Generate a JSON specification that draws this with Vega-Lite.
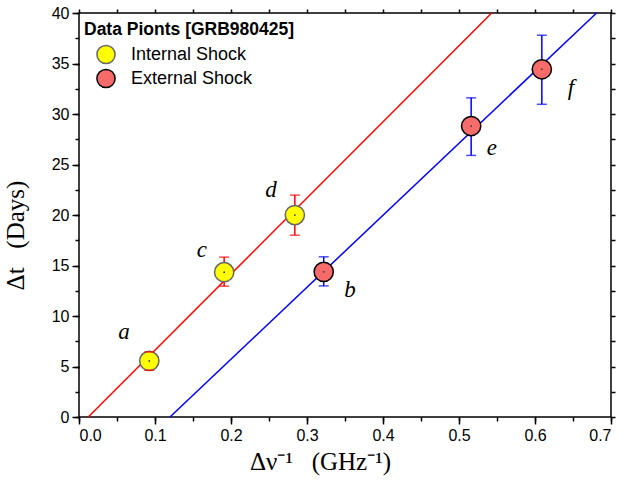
{
  "$schema": "https://vega.github.io/schema/vega-lite/v6.json",
  "autosize": "none",
  "width": 532,
  "height": 404,
  "padding": {"left": 79, "top": 13, "right": 23, "bottom": 67},
  "background": "white",
  "config": {
    "view": {"stroke": "black", "strokeWidth": 1.5},
    "axis": {
      "domain": false,
      "grid": false,
      "labelFont": "Liberation Sans",
      "labelFontSize": 16,
      "labelColor": "black",
      "tickColor": "black",
      "tickWidth": 1.5,
      "titleColor": "black",
      "titleFont": "Liberation Serif",
      "titleFontWeight": "normal",
      "titleFontSize": 25
    },
    "legend": {
      "titleFont": "Liberation Sans", "titleFontSize": 17.5, "titleFontWeight": "bold", "titleColor": "black", "titlePadding": 6, "titleLimit": 400,
      "labelFont": "Liberation Sans", "labelFontSize": 18, "labelColor": "black", "labelOffset": 15, "labelLimit": 400,
      "symbolSize": 330, "symbolStrokeWidth": 1.5, "symbolOffset": 12, "rowPadding": -2, "symbolType": "circle"
    }
  },
  "datasets": {
    "pts": [
      {"label": "a", "group": "Internal Shock", "x": 0.0925, "y": 5.55, "lo": 4.63, "hi": 6.44, "lx": 0.0592, "ly": 8.39},
      {"label": "c", "group": "Internal Shock", "x": 0.191, "y": 14.34, "lo": 12.95, "hi": 15.83, "lx": 0.1618, "ly": 16.52},
      {"label": "d", "group": "Internal Shock", "x": 0.284, "y": 19.99, "lo": 18.0, "hi": 21.97, "lx": 0.2526, "ly": 22.46},
      {"label": "b", "group": "External Shock", "x": 0.322, "y": 14.37, "lo": 12.98, "hi": 15.86, "lx": 0.3566, "ly": 12.55},
      {"label": "e", "group": "External Shock", "x": 0.516, "y": 28.81, "lo": 25.9, "hi": 31.6, "lx": 0.5434, "ly": 26.63},
      {"label": "f", "group": "External Shock", "x": 0.609, "y": 34.43, "lo": 30.96, "hi": 37.8, "lx": 0.6474, "ly": 32.58}
    ],
    "fits": [
      {"group": "Internal Shock", "x": 0.0122, "y": 0},
      {"group": "Internal Shock", "x": 0.543, "y": 40},
      {"group": "External Shock", "x": 0.1197, "y": 0},
      {"group": "External Shock", "x": 0.681, "y": 40}
    ]
  },
  "resolve": {"axis": {"x": "independent", "y": "independent"}},
  "layer": [
    {
      "data": {"name": "fits"},
      "mark": {"type": "line", "strokeWidth": 1.5},
      "encoding": {
        "x": {"field": "x", "type": "quantitative", "scale": {"domain": [0, 0.7], "nice": false, "zero": false},
              "axis": {"orient": "bottom", "values": [0, 0.1, 0.2, 0.3, 0.4, 0.5, 0.6, 0.7], "format": ".1f", "tickSize": 7, "labelPadding": 3,
                       "title": "Δν⁻¹\u2002 (GHz⁻¹)", "titleX": 241, "titlePadding": 6}},
        "y": {"field": "y", "type": "quantitative", "scale": {"domain": [0, 40], "nice": false},
              "axis": {"orient": "left", "values": [0, 5, 10, 15, 20, 25, 30, 35, 40], "tickSize": 7, "labelPadding": 3,
                       "title": "Δt\u2002 (Days)", "titleY": 222, "titleX": -51}},
        "color": {"field": "group", "type": "nominal", "scale": {"domain": ["External Shock", "Internal Shock"], "range": ["#0000ff", "#ff0000"]}, "legend": null},
        "detail": {"field": "group"}
      }
    },
    {
      "data": {"name": "pts"},
      "mark": {"type": "rule", "strokeWidth": 1.5},
      "encoding": {
        "x": {"field": "x", "type": "quantitative",
              "axis": {"orient": "bottom", "values": [0, 0.05, 0.1, 0.15, 0.2, 0.25, 0.3, 0.35, 0.4, 0.45, 0.5, 0.55, 0.6, 0.65, 0.7], "tickSize": 4, "labels": false, "title": null}},
        "y": {"field": "lo", "type": "quantitative",
              "axis": {"orient": "left", "values": [0, 2.5, 5, 7.5, 10, 12.5, 15, 17.5, 20, 22.5, 25, 27.5, 30, 32.5, 35, 37.5, 40], "tickSize": 4, "labels": false, "title": null}},
        "y2": {"field": "hi"},
        "color": {"field": "group", "type": "nominal", "legend": null}
      }
    },
    {
      "data": {"name": "pts"},
      "mark": {"type": "circle", "size": 370, "strokeWidth": 1.5, "opacity": 1},
      "encoding": {
        "x": {"field": "x", "type": "quantitative",
              "axis": {"orient": "top", "values": [0, 0.05, 0.1, 0.15, 0.2, 0.25, 0.3, 0.35, 0.4, 0.45, 0.5, 0.55, 0.6, 0.65, 0.7], "tickSize": 4, "labels": false, "title": null}},
        "y": {"field": "y", "type": "quantitative",
              "axis": {"orient": "right", "values": [0, 2.5, 5, 7.5, 10, 12.5, 15, 17.5, 20, 22.5, 25, 27.5, 30, 32.5, 35, 37.5, 40], "tickSize": 4, "labels": false, "title": null}},
        "fill": {"field": "group", "type": "nominal",
                 "scale": {"domain": ["Internal Shock", "External Shock"], "range": ["#ffff00", "#f86b6b"]},
                 "legend": {"orient": "none", "legendX": 5, "legendY": 8, "title": "Data Pionts [GRB980425]", "titleLimit": 400,
                            "titleFontSize": 17.5, "labelFontSize": 18, "symbolOffset": 12, "rowPadding": -2}},
        "stroke": {"field": "group", "type": "nominal",
                   "scale": {"domain": ["Internal Shock", "External Shock"], "range": ["#666666", "#000000"]},
                   "legend": {"orient": "none", "legendX": 5, "legendY": 8, "title": "Data Pionts [GRB980425]", "titleLimit": 400,
                            "titleFontSize": 17.5, "labelFontSize": 18, "symbolOffset": 12, "rowPadding": -2}}
      }
    },
    {
      "data": {"name": "pts"},
      "transform": [{"fold": ["lo", "hi"], "as": ["end", "val"]}],
      "mark": {"type": "tick", "orient": "horizontal", "size": 10, "thickness": 1.5},
      "encoding": {
        "x": {"field": "x", "type": "quantitative", "axis": null},
        "y": {"field": "val", "type": "quantitative", "axis": null},
        "color": {"field": "group", "type": "nominal", "legend": null}
      }
    },
    {
      "data": {"name": "pts"},
      "mark": {"type": "circle", "size": 3, "fill": "#333333", "opacity": 1},
      "encoding": {
        "x": {"field": "x", "type": "quantitative", "axis": null},
        "y": {"field": "y", "type": "quantitative", "axis": null}
      }
    },
    {
      "data": {"name": "pts"},
      "mark": {"type": "text", "font": "Liberation Serif", "fontStyle": "italic", "fontSize": 23, "align": "center", "baseline": "middle", "fill": "black"},
      "encoding": {
        "x": {"field": "lx", "type": "quantitative", "axis": null},
        "y": {"field": "ly", "type": "quantitative", "axis": null},
        "text": {"field": "label"}
      }
    }
  ]
}
